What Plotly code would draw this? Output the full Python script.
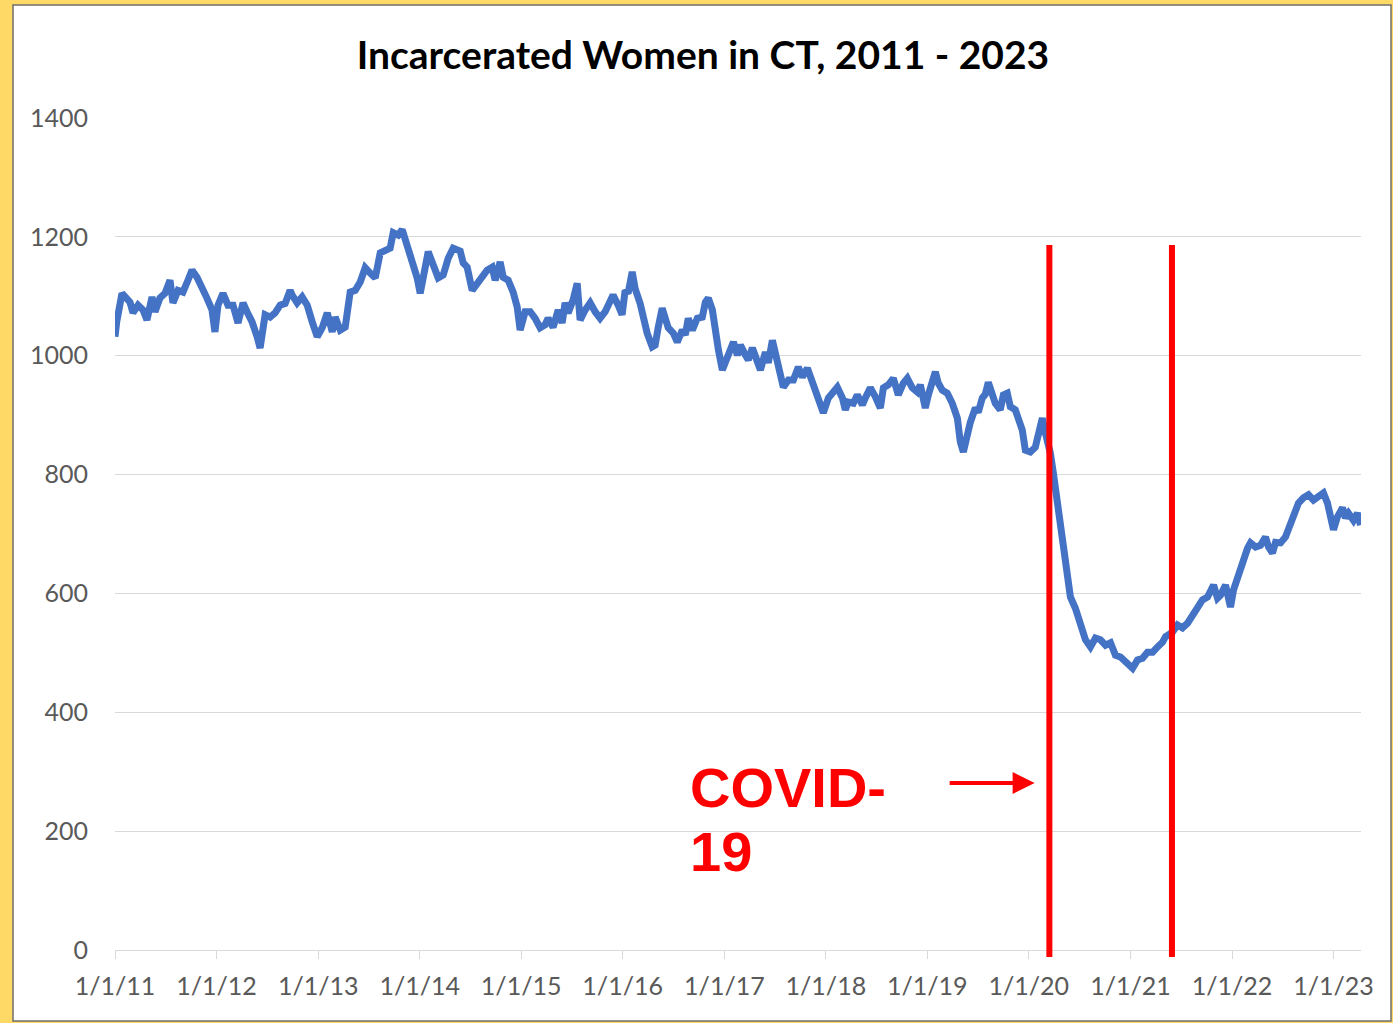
import datetime as dt
import plotly.graph_objects as go

# ---------------- data ----------------
chart_title = "Incarcerated Women in CT, 2011 - 2023"

# time position of each reading, in years since 1/1/2011
years_since_2011 = [
    0.000, 0.017, 0.069, 0.099, 0.148, 0.177, 0.227, 0.276, 0.315, 0.365, 0.394, 0.443,
    0.493, 0.542, 0.571, 0.621, 0.670, 0.719, 0.759, 0.808, 0.857, 0.906, 0.956, 0.985,
    1.015, 1.064, 1.113, 1.163, 1.212, 1.261, 1.300, 1.350, 1.399, 1.429, 1.478, 1.527,
    1.576, 1.626, 1.675, 1.724, 1.744, 1.793, 1.842, 1.892, 1.941, 1.990,
    2.039, 2.089, 2.138, 2.167, 2.217, 2.266, 2.315, 2.365, 2.414, 2.463, 2.512, 2.562,
    2.611, 2.660, 2.709, 2.739, 2.788, 2.828, 2.877, 2.926, 2.975,
    3.005, 3.054, 3.084, 3.133, 3.182, 3.232, 3.281, 3.330, 3.399, 3.429, 3.468, 3.517,
    3.567, 3.616, 3.665, 3.714, 3.744, 3.793, 3.823, 3.872, 3.921, 3.961, 3.990,
    4.039, 4.089, 4.138, 4.187, 4.236, 4.266, 4.315, 4.365, 4.404, 4.433, 4.463, 4.512,
    4.552, 4.581, 4.631, 4.680, 4.729, 4.778, 4.828, 4.877, 4.906, 4.956, 4.995,
    5.025, 5.054, 5.094, 5.123, 5.172, 5.202, 5.241, 5.291, 5.320, 5.350, 5.389, 5.419,
    5.448, 5.498, 5.537, 5.586, 5.616, 5.645, 5.685, 5.734, 5.783, 5.813, 5.842, 5.882,
    5.911, 5.941, 5.980,
    6.010, 6.059, 6.089, 6.128, 6.158, 6.207, 6.236, 6.276, 6.305, 6.355, 6.404, 6.433,
    6.473, 6.502, 6.552, 6.581, 6.631, 6.680, 6.729, 6.768, 6.818, 6.847, 6.897, 6.975,
    7.025, 7.074, 7.113, 7.163, 7.192, 7.222, 7.271, 7.310, 7.360, 7.389, 7.438, 7.488,
    7.537, 7.567, 7.616, 7.665, 7.714, 7.764, 7.803, 7.852, 7.901, 7.931, 7.980,
    8.010, 8.049, 8.079, 8.108, 8.148, 8.197, 8.246, 8.296, 8.325, 8.355, 8.394, 8.424,
    8.473, 8.502, 8.542, 8.571, 8.601, 8.640, 8.670, 8.719, 8.749, 8.788, 8.818, 8.867,
    8.897, 8.936, 8.966,
    9.015, 9.064, 9.094, 9.133, 9.163, 9.212, 9.241, 9.281, 9.310, 9.340, 9.379, 9.409,
    9.458, 9.507, 9.557, 9.606, 9.655, 9.704, 9.754, 9.803, 9.852, 9.901, 9.951,
    10.020, 10.069, 10.118, 10.167, 10.217, 10.266, 10.315, 10.345, 10.414, 10.463, 10.512,
    10.562, 10.611, 10.660, 10.709, 10.759, 10.788, 10.818, 10.857, 10.887, 10.936, 10.966,
    10.985,
    11.015, 11.054, 11.084, 11.113, 11.153, 11.182, 11.232, 11.281, 11.330, 11.360, 11.399,
    11.429, 11.478, 11.527, 11.576, 11.606, 11.655, 11.704, 11.754, 11.803, 11.852, 11.901,
    11.941, 11.970,
    12.000, 12.039, 12.089, 12.118, 12.148, 12.197, 12.236, 12.266,
]

incarcerated_women = [
    1032, 1057, 1105, 1099, 1090, 1072, 1085, 1077, 1060, 1099, 1074, 1097,
    1105, 1127, 1089, 1110, 1107, 1127, 1144, 1132, 1116, 1097, 1077, 1040,
    1085, 1105, 1085, 1085, 1055, 1089, 1074, 1057, 1032, 1013, 1069, 1065,
    1072, 1085, 1088, 1110, 1102, 1089, 1099, 1085, 1057, 1032,
    1047, 1072, 1040, 1065, 1043, 1048, 1107, 1110, 1124, 1148, 1139, 1131,
    1173, 1178, 1181, 1207, 1203, 1212, 1186, 1161, 1131,
    1105, 1153, 1175, 1153, 1131, 1136, 1164, 1181, 1176, 1156, 1149, 1110,
    1122, 1132, 1144, 1149, 1127, 1158, 1132, 1127, 1107, 1082, 1043,
    1074, 1074, 1063, 1047, 1052, 1063, 1048, 1077, 1055, 1089, 1072, 1094,
    1122, 1060, 1077, 1089, 1074, 1063, 1074, 1089, 1102, 1085, 1069,
    1110, 1105, 1141, 1113, 1088, 1065, 1038, 1015, 1018, 1048, 1080, 1063,
    1047, 1038, 1023, 1043, 1035, 1063, 1043, 1063, 1065, 1090, 1097, 1077,
    1032, 1010, 976,
    988, 1015, 1023, 1001, 1018, 1001, 993, 1013, 998, 976, 1006, 988,
    1026, 1006, 964, 947, 959, 959, 981, 964, 979, 965, 945, 904,
    929, 939, 947, 929, 909, 922, 920, 934, 917, 929, 946, 931,
    912, 946, 951, 962, 934, 954, 962, 946, 939, 951, 912,
    934, 956, 973, 954, 942, 937, 920, 895, 855, 838, 867, 888,
    912, 905, 929, 935, 955, 931, 920, 909, 934, 937, 914, 909,
    895, 875, 841,
    838, 846, 872, 895, 870, 836, 803, 752, 712, 673, 634, 594,
    575, 550, 522, 510, 525, 522, 513, 517, 496, 493, 485,
    474, 488, 491, 501, 501, 510, 518, 527, 535, 547, 542,
    550, 564, 575, 589, 594, 602, 614, 592, 597, 614, 597,
    577,
    606, 628, 639, 656, 676, 685, 678, 681, 695, 678, 668,
    686, 685, 695, 718, 735, 752, 761, 766, 757, 762, 769,
    752, 723,
    707, 729, 744, 727, 735, 723, 735, 715,
]

tick_years = list(range(2011, 2024))
tick_labels = ["1/1/11", "1/1/12", "1/1/13", "1/1/14", "1/1/15", "1/1/16", "1/1/17",
               "1/1/18", "1/1/19", "1/1/20", "1/1/21", "1/1/22", "1/1/23"]
y_ticks = [0, 200, 400, 600, 800, 1000, 1200, 1400]

covid_marker_dates = ["2020-03-15", "2021-05-30"]
covid_label_lines = ["COVID-", "19"]
arrow_tail_date, arrow_head_date, arrow_level = "2019-03-17", "2020-01-22", 281
x_end_date = "2023-04-10"


def to_date(offset):
    yr = 2011 + int(offset)
    frac = offset - int(offset)
    start = dt.datetime(yr, 1, 1)
    end = dt.datetime(yr + 1, 1, 1)
    return start + (end - start) * frac


dates = [to_date(o) for o in years_since_2011]

# ---------------- style ----------------
W, H = 1393, 1023
ML, MR, MT, MB = 115, 32, 118, 73
PW, PH = W - ML - MR, H - MT - MB
BLUE = "#4472C4"
RED = "#FF0000"
GRID = "#D9D9D9"
LABEL = "#595959"
YELLOW = "#FFD966"
FONT = "Lato, Carlito, Calibri, sans-serif"


def px_x(px):
    return (px - ML) / PW


def px_y(py):
    return (H - MB - py) / PH


fig = go.Figure()

fig.add_trace(go.Scatter(
    x=dates, y=incarcerated_women, mode="lines",
    line=dict(color=BLUE, width=7), hoverinfo="x+y", showlegend=False,
))

# white card with thin border over yellow background
fig.add_shape(type="rect", xref="paper", yref="paper", layer="below",
              x0=px_x(13), x1=px_x(1391), y0=px_y(1021), y1=px_y(5),
              fillcolor="white", line=dict(color="#6F6F6F", width=1.5))

# COVID marker lines
for d in covid_marker_dates:
    fig.add_shape(type="line", xref="x", yref="paper", layer="above",
                  x0=d, x1=d, y0=px_y(957), y1=px_y(245),
                  line=dict(color=RED, width=6))

fig.add_annotation(
    x=arrow_head_date, y=arrow_level, ax=arrow_tail_date, ay=arrow_level,
    xref="x", yref="y", axref="x", ayref="y", text="",
    showarrow=True, arrowhead=2, arrowsize=1.1, arrowwidth=4, arrowcolor=RED, standoff=0,
)

for line_text, py in zip(covid_label_lines, [787, 851]):
    fig.add_annotation(
        x=px_x(689), y=px_y(py), xref="paper", yref="paper",
        xanchor="left", yanchor="middle", text=line_text, showarrow=False,
        borderpad=0,
        font=dict(family="Liberation Sans, Arial, sans-serif",
                  size=56, color=RED, weight="bold"),
    )

fig.update_layout(
    width=W, height=H, autosize=False,
    margin=dict(l=ML, r=MR, t=MT, b=MB, pad=0),
    paper_bgcolor=YELLOW, plot_bgcolor="rgba(0,0,0,0)",
    title=dict(text="<b>" + chart_title + "</b>", x=703 / W, xanchor="center",
               y=1 - 55 / H, yanchor="middle", yref="container",
               font=dict(family=FONT, size=39, color="#000000")),
    font=dict(family=FONT, color=LABEL, size=25),
    showlegend=False,
)

fig.update_xaxes(
    type="date", range=["2011-01-01", x_end_date],
    tickvals=[f"{y}-01-01" for y in tick_years], ticktext=tick_labels,
    showgrid=False, zeroline=False,
    showline=True, linecolor=GRID, linewidth=1,
    ticks="outside", ticklen=8, tickcolor=GRID, tickwidth=1,
    tickfont=dict(family=FONT, size=25, color=LABEL),
    ticklabelstandoff=6,
)

fig.update_yaxes(
    range=[0, 1400], tickvals=y_ticks,
    showgrid=True, gridcolor=GRID, gridwidth=1.2,
    zeroline=False, showline=False, ticks="",
    tickfont=dict(family=FONT, size=25, color=LABEL),
    ticklabelstandoff=26,
)

fig.write_html(
    "out.html",
    config={"displayModeBar": False},
    post_script=f"document.body.style.margin='0';document.body.style.background='{YELLOW}';",
)
